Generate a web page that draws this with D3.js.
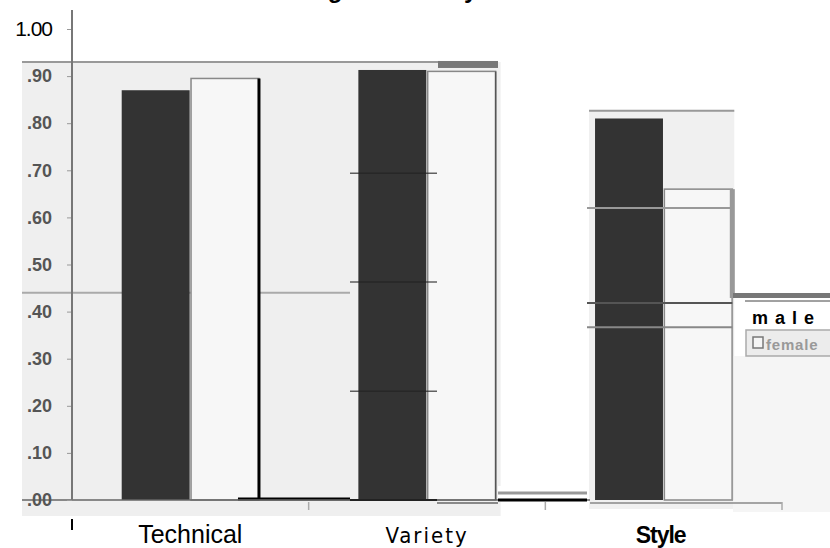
<!DOCTYPE html>
<html>
<head>
<meta charset="utf-8">
<script src="https://cdn.jsdelivr.net/npm/d3@7"></script>
<style>
  body { margin: 0; background: #fff; }
  svg { display: block; font-family: "Liberation Sans", Arial, sans-serif; }
</style>
</head>
<body>
<div id="chart"></div>
<script>
// Data
var categories = ["Technical", "Variety", "Style"];
var maleValues = [0.87, 0.913, 0.81];
var femaleValues = [0.895, 0.91, 0.66];
var yTicks = [0, 0.1, 0.2, 0.3, 0.4, 0.5, 0.6, 0.7, 0.8, 0.9, 1.0];
var seriesNames = ["male", "female"];

var svgWidth = 830;
var svgHeight = 548;

var svg = d3.select("#chart")
  .append("svg")
  .attr("width", svgWidth)
  .attr("height", svgHeight);

var data = categories.map(function (c, i) {
  return { cat: c, male: maleValues[i], female: femaleValues[i] };
});

// Scales
var yScale = d3.scaleLinear()
  .domain([0, 1])
  .range([500, 29]);

var x0 = d3.scaleBand()
  .domain(categories)
  .range([72, 782])
  .paddingInner(0.42)
  .paddingOuter(0.21);

var x1 = d3.scaleBand()
  .domain(seriesNames)
  .range([0, x0.bandwidth()])
  .paddingInner(0.02);

var step = x0.step();
var bandStart = 72;

// Background panels (scanned pieces)
svg.append("rect")
  .attr("x", 22).attr("y", yScale(0.93))
  .attr("width", x0("Variety") + x0.bandwidth() + 5 - 22)
  .attr("height", 516 - yScale(0.93))
  .attr("fill", "#efefef");

svg.append("rect")
  .attr("x", x0("Style") - 6).attr("y", yScale(0.82) - 3)
  .attr("width", x0.bandwidth() + 8)
  .attr("height", yScale(0) - yScale(0.82) + 12)
  .attr("fill", "#f0f0f0");

svg.append("rect")
  .attr("x", 733).attr("y", 356)
  .attr("width", 97).attr("height", 156)
  .attr("fill", "#f5f5f5");

// top borders of panels
svg.append("line")
  .attr("x1", 22).attr("x2", 498)
  .attr("y1", yScale(0.93)).attr("y2", yScale(0.93))
  .attr("stroke", "#999").attr("stroke-width", 2);
svg.append("rect")
  .attr("x", 438).attr("y", yScale(0.93) - 1)
  .attr("width", 60).attr("height", 7)
  .attr("fill", "#777");
svg.append("line")
  .attr("x1", x0("Style") - 6).attr("x2", x0("Style") + x0.bandwidth() + 2)
  .attr("y1", yScale(0.82) - 3).attr("y2", yScale(0.82) - 3)
  .attr("stroke", "#999").attr("stroke-width", 2);

// grid line in first panel
svg.append("line")
  .attr("x1", 22).attr("x2", 350)
  .attr("y1", yScale(0.44)).attr("y2", yScale(0.44))
  .attr("stroke", "#aaa").attr("stroke-width", 2);

// Bars
var groups = svg.selectAll(".group")
  .data(data)
  .enter()
  .append("g")
  .attr("class", "group")
  .attr("transform", function (d) { return "translate(" + x0(d.cat) + ",0)"; });

groups.append("rect")
  .attr("x", x1("male"))
  .attr("y", function (d) { return yScale(d.male); })
  .attr("width", x1.bandwidth())
  .attr("height", function (d) { return yScale(0) - yScale(d.male); })
  .attr("fill", "#333");

groups.append("rect")
  .attr("x", x1("female"))
  .attr("y", function (d) { return yScale(d.female); })
  .attr("width", x1.bandwidth())
  .attr("height", function (d) { return yScale(0) - yScale(d.female); })
  .attr("fill", "#f7f7f7")
  .attr("stroke", "#888")
  .attr("stroke-width", 1.5);

// edge lines of the female bars
var tx = x0("Technical") + x1("female") + x1.bandwidth();
svg.append("line")
  .attr("x1", tx).attr("x2", tx)
  .attr("y1", yScale(femaleValues[0])).attr("y2", yScale(0))
  .attr("stroke", "#000").attr("stroke-width", 3);
svg.append("line")
  .attr("x1", tx - 21).attr("x2", 350)
  .attr("y1", yScale(0) - 1).attr("y2", yScale(0) - 1)
  .attr("stroke", "#000").attr("stroke-width", 3);

var vx = x0("Variety") + x1("female") + x1.bandwidth();
svg.append("line")
  .attr("x1", vx).attr("x2", vx)
  .attr("y1", yScale(femaleValues[1])).attr("y2", yScale(0))
  .attr("stroke", "#555").attr("stroke-width", 1.5);

var sx = x0("Style") + x1("female") + x1.bandwidth();
svg.append("line")
  .attr("x1", sx).attr("x2", sx)
  .attr("y1", yScale(femaleValues[2])).attr("y2", 298)
  .attr("stroke", "#999").attr("stroke-width", 5);
svg.append("line")
  .attr("x1", sx).attr("x2", sx)
  .attr("y1", 298).attr("y2", yScale(0))
  .attr("stroke", "#999").attr("stroke-width", 1.5);

// dark lines across the Variety male bar
[0.694, 0.463, 0.231].forEach(function (v) {
  svg.append("line")
    .attr("x1", 350).attr("x2", 437)
    .attr("y1", yScale(v)).attr("y2", yScale(v))
    .attr("stroke", "#222").attr("stroke-width", 1.5)
    .attr("opacity", 0.7);
});

// lines across the Style panel
svg.append("line")
  .attr("x1", 587).attr("x2", sx)
  .attr("y1", yScale(0.62)).attr("y2", yScale(0.62))
  .attr("stroke", "#999").attr("stroke-width", 2);
svg.append("line")
  .attr("x1", 587).attr("x2", sx)
  .attr("y1", yScale(0.418)).attr("y2", yScale(0.418))
  .attr("stroke", "#555").attr("stroke-width", 2);
svg.append("line")
  .attr("x1", 587).attr("x2", sx)
  .attr("y1", yScale(0.367)).attr("y2", yScale(0.367))
  .attr("stroke", "#888").attr("stroke-width", 2);

// base lines
svg.append("line")
  .attr("x1", 22).attr("x2", 590)
  .attr("y1", yScale(0)).attr("y2", yScale(0))
  .attr("stroke", "#666").attr("stroke-width", 1.5);
svg.append("line")
  .attr("x1", 350).attr("x2", 437)
  .attr("y1", yScale(0)).attr("y2", yScale(0))
  .attr("stroke", "#222").attr("stroke-width", 2);
svg.append("line")
  .attr("x1", 437).attr("x2", 498)
  .attr("y1", yScale(0) + 3).attr("y2", yScale(0) + 3)
  .attr("stroke", "#888").attr("stroke-width", 2);
svg.append("rect")
  .attr("x", 498).attr("y", yScale(0) - 14)
  .attr("width", 89).attr("height", 16)
  .attr("fill", "#fff");
svg.append("line")
  .attr("x1", 498).attr("x2", 587)
  .attr("y1", yScale(0) - 7).attr("y2", yScale(0) - 7)
  .attr("stroke", "#999").attr("stroke-width", 3);
svg.append("line")
  .attr("x1", 498).attr("x2", 587)
  .attr("y1", yScale(0)).attr("y2", yScale(0))
  .attr("stroke", "#000").attr("stroke-width", 3);
svg.append("line")
  .attr("x1", 590).attr("x2", 782)
  .attr("y1", yScale(0) + 3).attr("y2", yScale(0) + 3)
  .attr("stroke", "#888").attr("stroke-width", 1.5);

// category separator ticks under the axis
[1, 2, 3].forEach(function (i) {
  var xx = bandStart + step * i;
  svg.append("line")
    .attr("x1", xx).attr("x2", xx)
    .attr("y1", yScale(0) + 2).attr("y2", yScale(0) + 10)
    .attr("stroke", "#aaa").attr("stroke-width", 1.5);
});

// Legend
svg.append("rect")
  .attr("x", 733).attr("y", 293)
  .attr("width", 97).attr("height", 5)
  .attr("fill", "#777");
svg.append("line")
  .attr("x1", 745).attr("x2", 830)
  .attr("y1", 301).attr("y2", 301)
  .attr("stroke", "#444").attr("stroke-width", 1);
svg.append("rect")
  .attr("x", 748).attr("y", 303)
  .attr("width", 82).attr("height", 25)
  .attr("fill", "#fff");
svg.append("text")
  .attr("x", 752).attr("y", 324)
  .attr("font-size", "18px")
  .attr("font-weight", "bold")
  .attr("letter-spacing", "7px")
  .attr("fill", "#000")
  .text(seriesNames[0]);
svg.append("rect")
  .attr("x", 746).attr("y", 330)
  .attr("width", 86).attr("height", 26)
  .attr("fill", "#ececec")
  .attr("stroke", "#aaa").attr("stroke-width", 1.5);
svg.append("rect")
  .attr("x", 753).attr("y", 337)
  .attr("width", 10).attr("height", 11)
  .attr("fill", "#f5f5f5")
  .attr("stroke", "#777").attr("stroke-width", 1.5);
svg.append("text")
  .attr("x", 766).attr("y", 350)
  .attr("font-size", "15px")
  .attr("font-weight", "bold")
  .attr("letter-spacing", "0.8px")
  .attr("fill", "#999")
  .text(seriesNames[1]);

// Y axis
var leftAxis = d3.axisLeft(yScale)
  .tickValues(yTicks)
  .tickSize(5)
  .tickPadding(15)
  .tickFormat(function (d) { return d === 1 ? "1.00" : d3.format(".2f")(d).replace(/^0/, ""); });

var yAxisG = svg.append("g")
  .attr("transform", "translate(72,0)")
  .call(leftAxis);
yAxisG.select(".domain").remove();
yAxisG.selectAll(".tick line").attr("stroke", "#999");
yAxisG.selectAll(".tick text")
  .attr("font-size", function (d) { return d === 1 ? "21px" : "18px"; })
  .attr("font-family", "Liberation Sans, Arial, sans-serif")
  .attr("letter-spacing", function (d) { return d === 1 ? "-1px" : "0px"; })
  .attr("fill", function (d) { return d === 1 ? "#000" : "#555"; })
  .attr("font-weight", function (d) { return d === 1 ? "normal" : "bold"; });

svg.append("line")
  .attr("x1", 72).attr("x2", 72)
  .attr("y1", 10).attr("y2", yScale(0))
  .attr("stroke", "#777").attr("stroke-width", 2);
svg.append("line")
  .attr("x1", 72).attr("x2", 72)
  .attr("y1", 519).attr("y2", 530)
  .attr("stroke", "#000").attr("stroke-width", 2);

// Category labels
var labelStyle = {
  "Technical": { size: "25px", weight: "normal", spacing: "0px", dx: 0, family: "Liberation Sans, Arial, sans-serif" },
  "Variety": { size: "22px", weight: "normal", spacing: "2px", dx: 0, family: "Liberation Sans Narrow, DejaVu Sans Condensed, sans-serif" },
  "Style": { size: "23px", weight: "bold", spacing: "-1px", dx: -3, family: "Liberation Sans Narrow, Liberation Sans, Arial, sans-serif" }
};

svg.selectAll(".catLabel")
  .data(categories)
  .enter()
  .append("text")
  .attr("class", "catLabel")
  .attr("x", function (d) { return x0(d) + x0.bandwidth() / 2 + labelStyle[d].dx; })
  .attr("y", 543)
  .attr("text-anchor", "middle")
  .attr("font-family", function (d) { return labelStyle[d].family; })
  .attr("font-size", function (d) { return labelStyle[d].size; })
  .attr("font-weight", function (d) { return labelStyle[d].weight; })
  .attr("letter-spacing", function (d) { return labelStyle[d].spacing; })
  .attr("fill", "#000")
  .text(function (d) { return d; });

// Title (cut off at the top of the page, as in the scan)
svg.append("text")
  .attr("x", 415)
  .attr("y", -2)
  .attr("text-anchor", "middle")
  .attr("font-size", "24px")
  .attr("font-weight", "bold")
  .attr("fill", "#000")
  .text("Average Scores by Gender");
</script>
</body>
</html>
